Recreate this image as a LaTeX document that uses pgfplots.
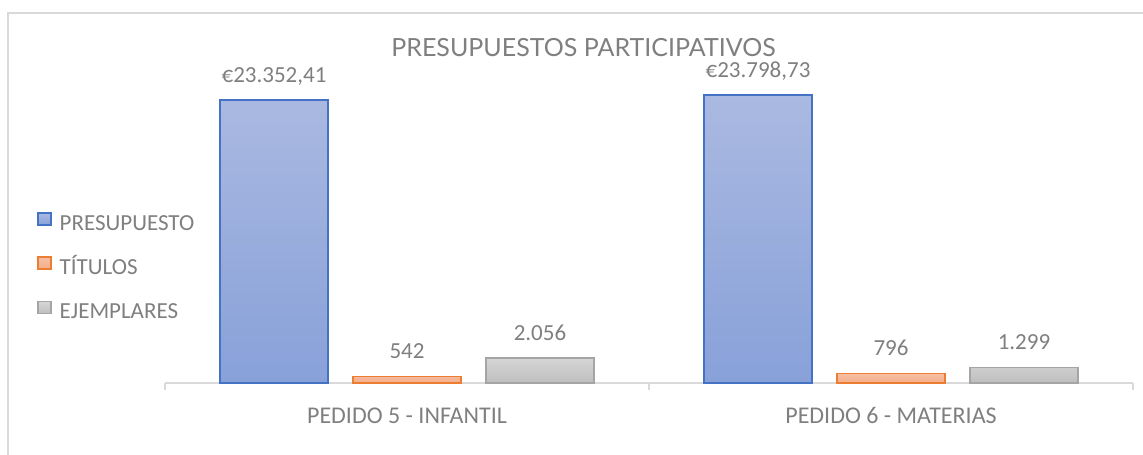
\documentclass[border=0pt]{standalone}
\usepackage{fontspec}
\setmainfont{Carlito}
\newfontfamily\latofont{Lato}
\usepackage{pgfplots}
\pgfplotsset{compat=1.18}
\definecolor{txt}{HTML}{7F7F7F}
\definecolor{axisgray}{HTML}{D9D9D9}
\definecolor{framegray}{HTML}{D9D9D9}
\definecolor{bluetop}{HTML}{AAB9E1}
\definecolor{bluebot}{HTML}{88A1D9}
\definecolor{blueedge}{HTML}{4472C4}
\definecolor{orangetop}{HTML}{F6BFA5}
\definecolor{orangebot}{HTML}{F3AD8A}
\definecolor{orangeedge}{HTML}{ED7D31}
\definecolor{graytop}{HTML}{D6D6D6}
\definecolor{graybot}{HTML}{BEBEBE}
\definecolor{grayedge}{HTML}{A5A5A5}
\begin{document}
\begin{tikzpicture}[x=1pt,y=1pt]
\path[use as bounding box] (0,0) rectangle (1143,455);
\draw[framegray, line width=1.5pt] (8,-10) -- (8,442) -- (1160,442);
\node[font=\latofont\fontsize{25}{28}\selectfont, text=txt, anchor=base] at (583.5,398) {PRESUPUESTOS PARTICIPATIVOS};
\begin{axis}[
  at={(165pt,72pt)}, anchor=south west,
  scale only axis, width=968pt, height=343pt,
  xmin=-0.5, xmax=1.5, ymin=0, ymax=28324,
  clip=false,
  ybar=25pt, bar width=108pt,
  axis x line*=bottom, axis y line=none,
  x axis line style={draw=axisgray, line width=1.5pt},
  xtick={0,1}, xticklabels={PEDIDO 5 - INFANTIL, PEDIDO 6 - MATERIAS},
  major x tick style={draw=none},
  extra x ticks={-0.5,0.5,1.5}, extra x tick labels={},
  extra x tick style={major tick length=7pt, major x tick style={draw=axisgray, line width=1.5pt}, tick align=outside},
  xticklabel style={anchor=base, yshift=-36pt, font=\fontsize{24}{27}\selectfont, text=txt},
  nodes near coords, point meta=explicit symbolic,
  nodes near coords style={anchor=base, yshift=17.5pt, font=\fontsize{23}{26}\selectfont, text=txt},
  legend style={at={(-0.1322,0.4985)}, anchor=north west, draw=none, fill=none,
    inner sep=0pt, row sep=21pt, column sep=8pt,
    nodes={inner sep=0pt, text height=16pt, text depth=5pt, font=\fontsize{23}{26}\selectfont, text=txt}},
  legend cell align=left,
  legend image code/.code={\draw[#1] (0pt,0pt) rectangle (13pt,12pt);},
]
\addplot[draw=blueedge, line width=1.5pt, top color=bluetop, bottom color=bluebot]
  coordinates {(0,23352.41) [€23.352,41] (1,23798.73) [€23.798,73]};
\addplot[draw=orangeedge, line width=1.5pt, top color=orangetop, bottom color=orangebot]
  coordinates {(0,542) [542] (1,796) [796]};
\addplot[draw=grayedge, line width=1.5pt, top color=graytop, bottom color=graybot]
  coordinates {(0,2056) [2.056] (1,1299) [1.299]};
\legend{PRESUPUESTO, TÍTULOS, EJEMPLARES}
\end{axis}
\end{tikzpicture}
\end{document}
